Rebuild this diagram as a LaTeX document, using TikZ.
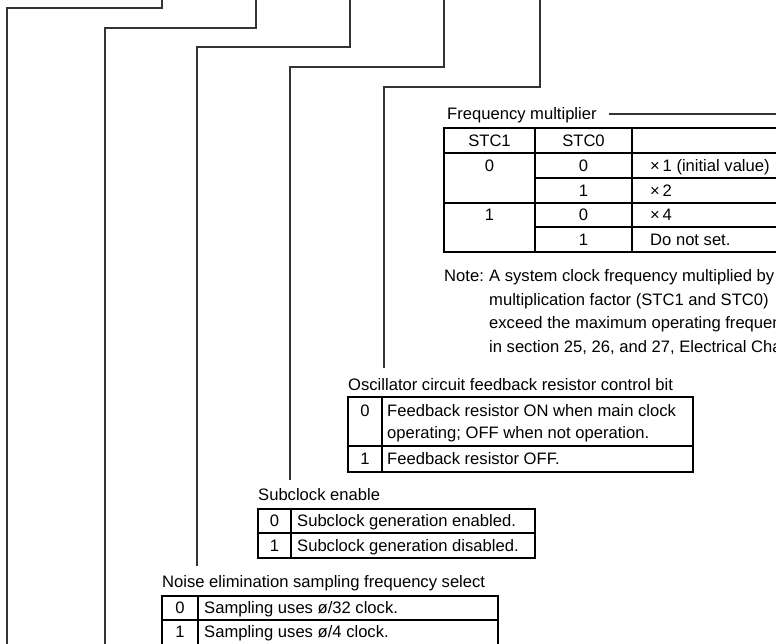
\documentclass[tikz,border=0pt]{standalone}
\usepackage{fontspec}
\setmainfont{Liberation Sans}
\begin{document}
\begin{tikzpicture}[x=1pt,y=-1pt,
  conn/.style={draw=black!80,line width=1.1pt},
  tbl/.style={draw=black,line width=1.3pt},
  txt/.style={font=\fontsize{16.6}{20}\selectfont,inner sep=0pt,text height=11.9pt,text depth=0pt,anchor=west},
  ctxt/.style={txt,anchor=center}]
\useasboundingbox (0,0) rectangle (776,644);
\clip (0,0) rectangle (776,644);
\fill[white] (0,0) rectangle (776,644);

% ---------- connector end points ----------
\coordinate (t1) at (162,0);  \coordinate (e1) at (7,644);
\coordinate (t2) at (256,0);  \coordinate (e2) at (105,644);
\coordinate (t3) at (350,0);  \coordinate (e3) at (197,566);
\coordinate (t4) at (444,0);  \coordinate (e4) at (290,480);
\coordinate (t5) at (540,0);  \coordinate (e5) at (384,368);

\draw[conn] (t1) -- ++(0,8)  -| (e1);
\draw[conn] (t2) -- ++(0,28) -| (e2);
\draw[conn] (t3) -- ++(0,47) -| (e3);
\draw[conn] (t4) -- ++(0,67) -| (e4);
\draw[conn] (t5) -- ++(0,87) -| (e5);

% ---------- Frequency multiplier ----------
\node[txt] (flab) at (447,114) {Frequency multiplier};
\coordinate (fend) at (776,114);
\draw[conn] ([xshift=12pt]flab.east) -- (fend);

\draw[tbl] (780,128) -- (444,128) -- (444,252) -- (780,252);
\draw[tbl] (444,153) -- (780,153);
\draw[tbl] (444,203) -- (780,203);
\draw[tbl] (535,178) -- (780,178);
\draw[tbl] (535,227) -- (780,227);
\draw[tbl] (535,128) -- (535,252);
\draw[tbl] (632,128) -- (632,252);

\node[ctxt] (h1) at (489.5,140.5) {STC1};
\node[ctxt] (h2) at (583.5,140.5) {STC0};
\node[ctxt] (a1) at (489.5,165.5) {0};
\node[ctxt] (a2) at (583.5,165.5) {0};
\node[txt]  (a3) at (650,165.5) {×\,1 (initial value)};
\node[ctxt] (b2) at (583.5,190.5) {1};
\node[txt]  (b3) at (650,190.5) {×\,2};
\node[ctxt] (c1) at (489.5,215) {1};
\node[ctxt] (c2) at (583.5,215) {0};
\node[txt]  (c3) at (650,215) {×\,4};
\node[ctxt] (d2) at (583.5,239.5) {1};
\node[txt]  (d3) at (650,239.5) {Do not set.};

% ---------- Note ----------
\node[txt] (note)  at (444,276) {Note:};
\node[txt] (n1) at (489,276) {A system clock frequency multiplied by};
\node[txt] (n2) at (489,299.5) {multiplication factor (STC1 and STC0)};
\node[txt] (n3) at (489,323) {exceed the maximum operating frequency};
\node[txt] (n4) at (489,346.5) {in section 25, 26, and 27, Electrical Characteristics};

% ---------- Oscillator ----------
\node[txt] (olab) at (348,385) {Oscillator circuit feedback resistor control bit};
\draw[tbl] (348,397) rectangle (693,472);
\draw[tbl] (348,446) -- (693,446);
\draw[tbl] (382,397) -- (382,472);
\node[ctxt] (o0) at (365,411) {0};
\node[txt]  (o0a) at (387,411) {Feedback resistor ON when main clock};
\node[txt]  (o0b) at (387,433) {operating; OFF when not operation.};
\node[ctxt] (o1) at (365,459) {1};
\node[txt]  (o1a) at (387,459) {Feedback resistor OFF.};

% ---------- Subclock ----------
\node[txt] (slab) at (258,495) {Subclock enable};
\draw[tbl] (258,509) rectangle (535,558);
\draw[tbl] (258,533) -- (535,533);
\draw[tbl] (291,509) -- (291,558);
\node[ctxt] (s0) at (274.5,521) {0};
\node[txt]  (s0a) at (297,521) {Subclock generation enabled.};
\node[ctxt] (s1) at (274.5,545.5) {1};
\node[txt]  (s1a) at (297,545.5) {Subclock generation disabled.};

% ---------- Noise ----------
\node[txt] (nlab) at (162,582) {Noise elimination sampling frequency select};
\draw[tbl] (162,650) -- (162,596) -- (498,596) -- (498,650);
\draw[tbl] (162,620) -- (498,620);
\draw[tbl] (198,596) -- (198,650);
\node[ctxt] (z0) at (180,608) {0};
\node[txt]  (z0a) at (204,608) {Sampling uses ø/32 clock.};
\node[ctxt] (z1) at (180,632) {1};
\node[txt]  (z1a) at (204,632) {Sampling uses ø/4 clock.};
\end{tikzpicture}
\end{document}
